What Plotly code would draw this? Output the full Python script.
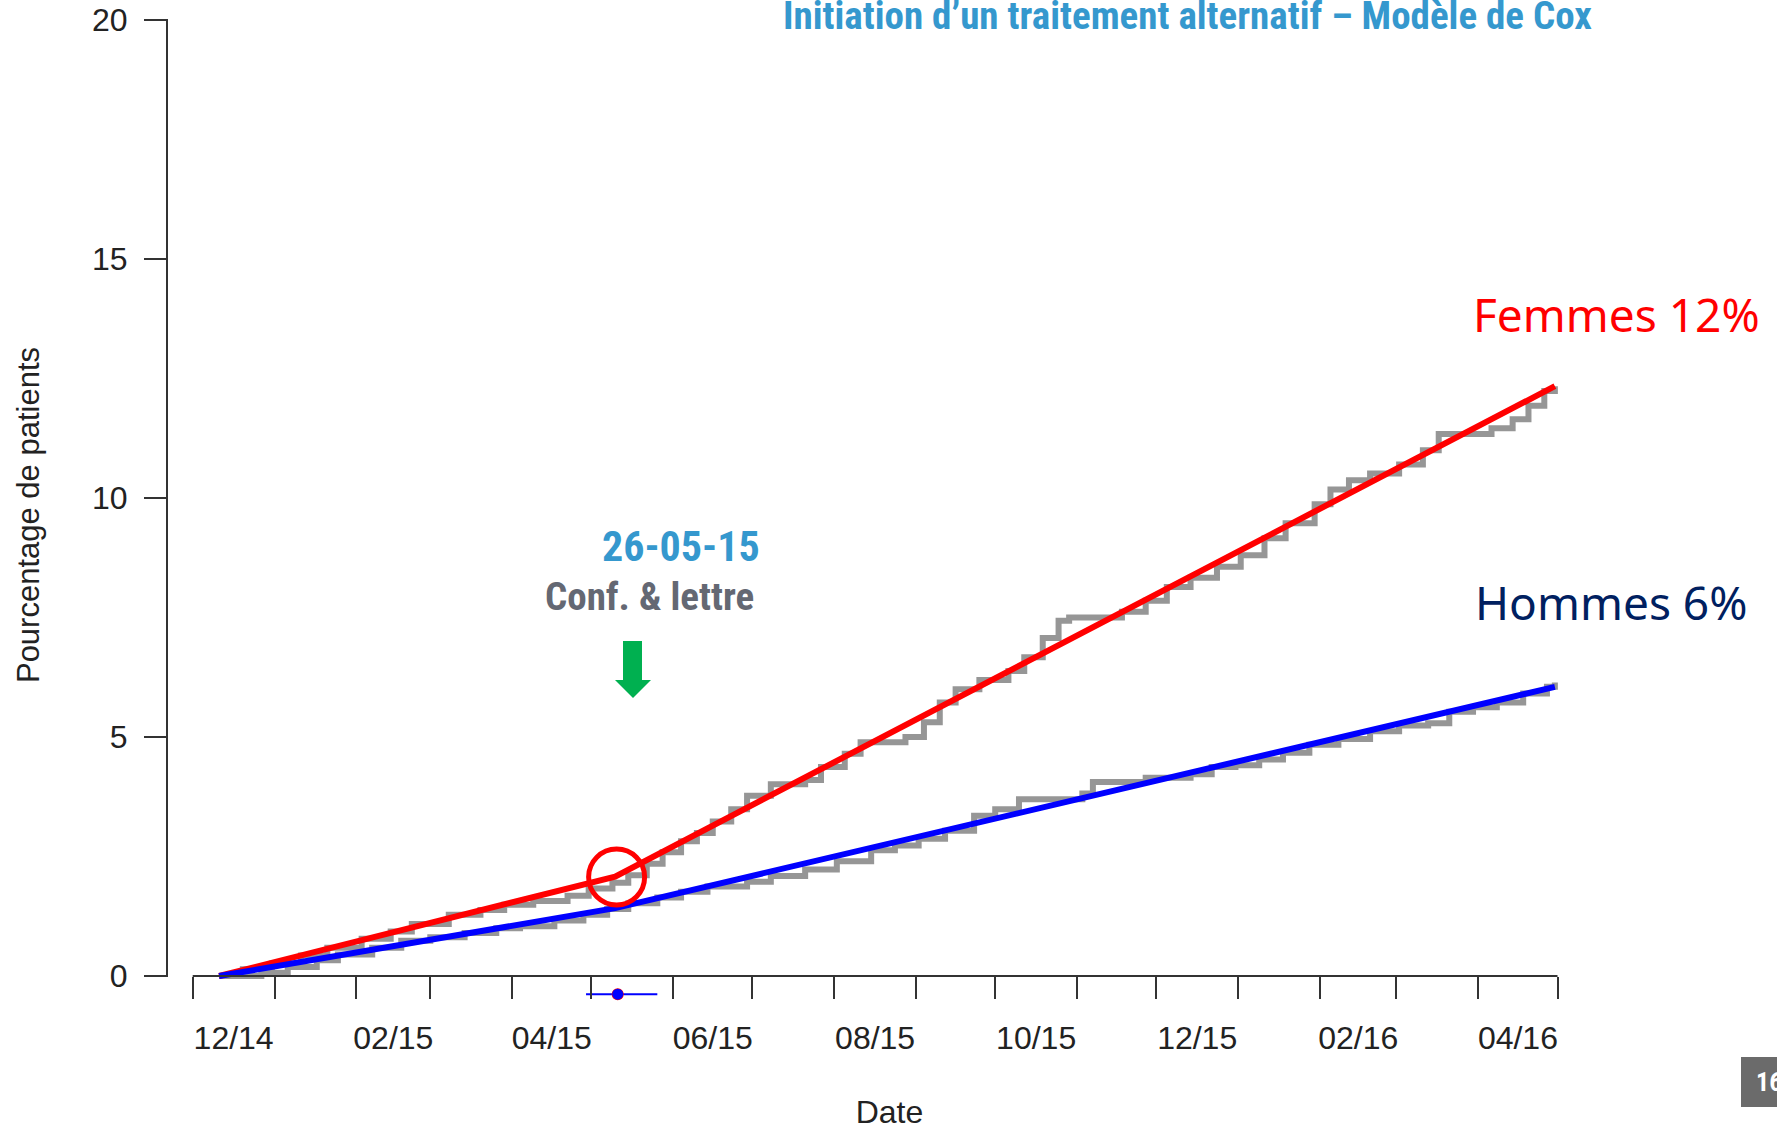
import plotly.graph_objects as go

# ---------------- data ----------------
fem_obs_dates = ["2014-12-11", "2014-12-20", "2014-12-31", "2015-01-11", "2015-01-21", "2015-02-03",
                 "2015-02-14", "2015-02-22", "2015-03-08", "2015-03-20", "2015-03-29", "2015-04-09",
                 "2015-04-22", "2015-04-30", "2015-05-09", "2015-05-15", "2015-05-22", "2015-05-28",
                 "2015-06-04", "2015-06-10", "2015-06-16", "2015-06-23", "2015-06-29", "2015-07-08",
                 "2015-07-21", "2015-07-27", "2015-08-05", "2015-08-11", "2015-08-28", "2015-09-04",
                 "2015-09-10", "2015-09-16", "2015-09-25", "2015-10-06", "2015-10-12", "2015-10-19",
                 "2015-10-25", "2015-10-29", "2015-11-18", "2015-11-27", "2015-12-05", "2015-12-14",
                 "2015-12-24", "2016-01-02", "2016-01-11", "2016-01-19", "2016-01-30", "2016-02-05",
                 "2016-02-12", "2016-02-20", "2016-03-02", "2016-03-11", "2016-03-17", "2016-04-06",
                 "2016-04-14", "2016-04-20", "2016-04-26", "2016-04-30"]
fem_obs_vals = [0.0, 0.14, 0.26, 0.43, 0.59, 0.78,
                0.93, 1.09, 1.28, 1.38, 1.49, 1.57,
                1.68, 1.83, 1.95, 2.11, 2.35, 2.59,
                2.82, 2.99, 3.23, 3.49, 3.77, 4.01,
                4.10, 4.37, 4.65, 4.89, 5.00, 5.31,
                5.72, 6.00, 6.19, 6.38, 6.67, 7.07,
                7.43, 7.50, 7.62, 7.85, 8.14, 8.33,
                8.56, 8.80, 9.16, 9.47, 9.87, 10.18,
                10.37, 10.51, 10.70, 11.00, 11.34, 11.46,
                11.65, 11.93, 12.24, 12.34]

hom_obs_dates = ["2014-12-11", "2014-12-27", "2015-01-06", "2015-01-17", "2015-01-25", "2015-02-07",
                 "2015-02-18", "2015-03-01", "2015-03-14", "2015-03-26", "2015-04-04", "2015-04-17",
                 "2015-04-28", "2015-05-07", "2015-05-15", "2015-05-26", "2015-06-04", "2015-06-14",
                 "2015-06-29", "2015-07-08", "2015-07-21", "2015-08-02", "2015-08-15", "2015-08-24",
                 "2015-09-02", "2015-09-12", "2015-09-23", "2015-10-01", "2015-10-10", "2015-11-03",
                 "2015-11-07", "2015-11-27", "2015-12-14", "2015-12-22", "2015-12-31", "2016-01-09",
                 "2016-01-18", "2016-01-28", "2016-02-08", "2016-02-20", "2016-03-02", "2016-03-13",
                 "2016-03-21", "2016-03-30", "2016-04-08", "2016-04-18", "2016-04-27", "2016-04-30"]
hom_obs_vals = [0.0, 0.07, 0.19, 0.33, 0.45, 0.59,
                0.74, 0.81, 0.90, 1.00, 1.04, 1.16,
                1.28, 1.40, 1.52, 1.64, 1.76, 1.87,
                1.97, 2.09, 2.23, 2.40, 2.63, 2.73,
                2.87, 3.04, 3.35, 3.49, 3.70, 3.82,
                4.06, 4.15, 4.22, 4.37, 4.41, 4.53,
                4.67, 4.84, 4.96, 5.12, 5.24, 5.29,
                5.53, 5.62, 5.72, 5.91, 6.05, 6.14]

fit_dates = ["2014-12-11", "2015-05-10", "2016-04-30"]
fit_fem = [0.0, 2.08, 12.34]
fit_hom = [0.0, 1.42, 6.05]

break_est = "2015-05-11"
break_low = "2015-04-29"
break_high = "2015-05-26"
break_level = -0.38

month_starts = ["2014-12-01", "2015-01-01", "2015-02-01", "2015-03-01", "2015-04-01", "2015-05-01",
                "2015-06-01", "2015-07-01", "2015-08-01", "2015-09-01", "2015-10-01", "2015-11-01",
                "2015-12-01", "2016-01-01", "2016-02-01", "2016-03-01", "2016-04-01", "2016-05-01"]
label_pos = ["2014-12-16 12:00", "2015-02-15", "2015-04-16", "2015-06-16", "2015-08-16 12:00",
             "2015-10-16 12:00", "2015-12-16 12:00", "2016-02-15 12:00", "2016-04-16"]
label_text = ["12/14", "02/15", "04/15", "06/15", "08/15", "10/15", "12/15", "02/16", "04/16"]
y_ticks = [0, 5, 10, 15, 20]

# ---------------- layout helpers (window pixels) ----------------
W, H = 1777, 1130
L, R, T, B = 167, 1612, 20, 1010   # plot area
Y0 = 976                           # pixel of value 0 / x axis
UNIT = (Y0 - T) / 20.0
YMIN = -(B - Y0) / UNIT


def px(x):
    return (x - L) / (R - L)


def py(y):
    return (B - y) / (B - T)


GREY = "rgb(150,150,150)"
AX = "#333333"
NARROW = "Liberation Sans Narrow, Arial Narrow, Roboto Condensed, sans-serif"
TICKFONT = dict(family="Liberation Sans, Arial, sans-serif", size=32, color="#222222")

fig = go.Figure()
fig.add_trace(go.Scatter(x=fem_obs_dates, y=fem_obs_vals, mode="lines", line=dict(color=GREY, width=6, shape="hv")))
fig.add_trace(go.Scatter(x=hom_obs_dates, y=hom_obs_vals, mode="lines", line=dict(color=GREY, width=6, shape="hv")))
fig.add_trace(go.Scatter(x=fit_dates, y=fit_fem, mode="lines", line=dict(color="#FF0000", width=6)))
fig.add_trace(go.Scatter(x=fit_dates, y=fit_hom, mode="lines", line=dict(color="#0000FF", width=6)))
fig.add_trace(go.Scatter(x=[break_low, break_high], y=[break_level, break_level], mode="lines",
                         line=dict(color="#0000FF", width=2)))
fig.add_trace(go.Scatter(x=[break_est], y=[break_level], mode="markers",
                         marker=dict(color="#FF0000", size=12)))
fig.add_trace(go.Scatter(x=[break_est], y=[break_level], mode="markers",
                         marker=dict(color="#0000FF", size=11)))

shapes = [
    # y axis line (value 0 to 20)
    dict(type="line", xref="paper", yref="paper", x0=0, x1=0, y0=py(Y0 + 1), y1=py(T - 1),
         line=dict(color=AX, width=2)),
    # x axis line between first and last month tick
    dict(type="line", xref="x", yref="y", x0=month_starts[0], x1=month_starts[-1], y0=0, y1=0,
         line=dict(color=AX, width=2)),
    dict(type="circle", xref="x", yref="y", xsizemode="pixel", ysizemode="pixel",
         xanchor="2015-05-10 14:00", yanchor=2.07, x0=-28, x1=28, y0=-28, y1=28,
         line=dict(color="#FF0000", width=5)),
    dict(type="path", xref="paper", yref="paper",
         path=("M {a},{b} L {c},{b} L {c},{d} L {e},{d} L {f},{g} L {h},{d} L {a},{d} Z").format(
             a=px(623), b=py(641), c=px(642), d=py(680), e=px(651), f=px(633), g=py(698), h=px(615)),
         fillcolor="#00B050", line=dict(width=0)),
    dict(type="rect", xref="paper", yref="paper", x0=px(1741), x1=px(1790), y0=py(1107), y1=py(1057),
         fillcolor="#6B6B6B", line=dict(width=0)),
]

annotations = [
    dict(text="Initiation d’un traitement alternatif – Modèle de Cox", xref="paper", yref="paper",
         x=px(1187), y=py(16), xanchor="center", yanchor="middle", showarrow=False,
         font=dict(family=NARROW, size=39, color="#3598CE", weight="bold")),
    dict(text="26-05-15", xref="paper", yref="paper", x=px(681), y=py(546), xanchor="center",
         yanchor="middle", showarrow=False, font=dict(family=NARROW, size=42, color="#3598CE", weight="bold")),
    dict(text="Conf. & lettre", xref="paper", yref="paper", x=px(649), y=py(597), xanchor="center",
         yanchor="middle", showarrow=False, font=dict(family=NARROW, size=39, color="#646873", weight="bold")),
    dict(text="Femmes 12%", xref="paper", yref="paper", x=px(1471), y=py(314), xanchor="left",
         yanchor="middle", showarrow=False, font=dict(family="Noto Sans, sans-serif", size=46, color="#FF0000")),
    dict(text="Hommes 6%", xref="paper", yref="paper", x=px(1473), y=py(602), xanchor="left",
         yanchor="middle", showarrow=False, font=dict(family="Noto Sans, sans-serif", size=46, color="#002060")),
    dict(text="16", xref="paper", yref="paper", x=px(1754), y=py(1082), xanchor="left",
         yanchor="middle", showarrow=False, font=dict(family=NARROW, size=26, color="#FFFFFF", weight="bold")),
]

fig.update_layout(
    width=W, height=H,
    margin=dict(l=L, r=W - R, t=T, b=H - B, pad=0),
    plot_bgcolor="white", paper_bgcolor="white",
    showlegend=False,
    shapes=shapes,
    annotations=annotations,
    xaxis=dict(
        type="date", automargin=False,
        anchor="free", position=(B - Y0) / (B - T),
        range=["2014-11-21 06:22", "2016-05-21 15:22"],
        showgrid=False, zeroline=False, showline=False,
        tickmode="array", tickvals=label_pos, ticktext=label_text,
        ticks="", ticklabelstandoff=40, tickfont=TICKFONT, ticklabeloverflow="allow",
        minor=dict(tickmode="array", tickvals=month_starts, ticks="outside", ticklen=22,
                   tickwidth=2, tickcolor=AX, showgrid=False),
        title=dict(text="Date", font=dict(family="Liberation Sans, Arial, sans-serif", size=32, color="#222222"),
                   standoff=62),
    ),
    yaxis=dict(
        range=[YMIN, 20], automargin=False,
        showgrid=False, zeroline=False, showline=False,
        tickmode="array", tickvals=y_ticks,
        ticks="outside", ticklen=22, tickwidth=2, tickcolor=AX,
        ticklabelstandoff=10, tickfont=TICKFONT, ticklabeloverflow="allow",
        title=dict(text="Pourcentage de patients",
                   font=dict(family="Liberation Sans, Arial, sans-serif", size=31, color="#222222"),
                   standoff=43),
    ),
)

fig.write_html("out.html",
               config={"displayModeBar": False},
               post_script="document.body.style.margin='0';document.body.style.overflow='hidden';")
